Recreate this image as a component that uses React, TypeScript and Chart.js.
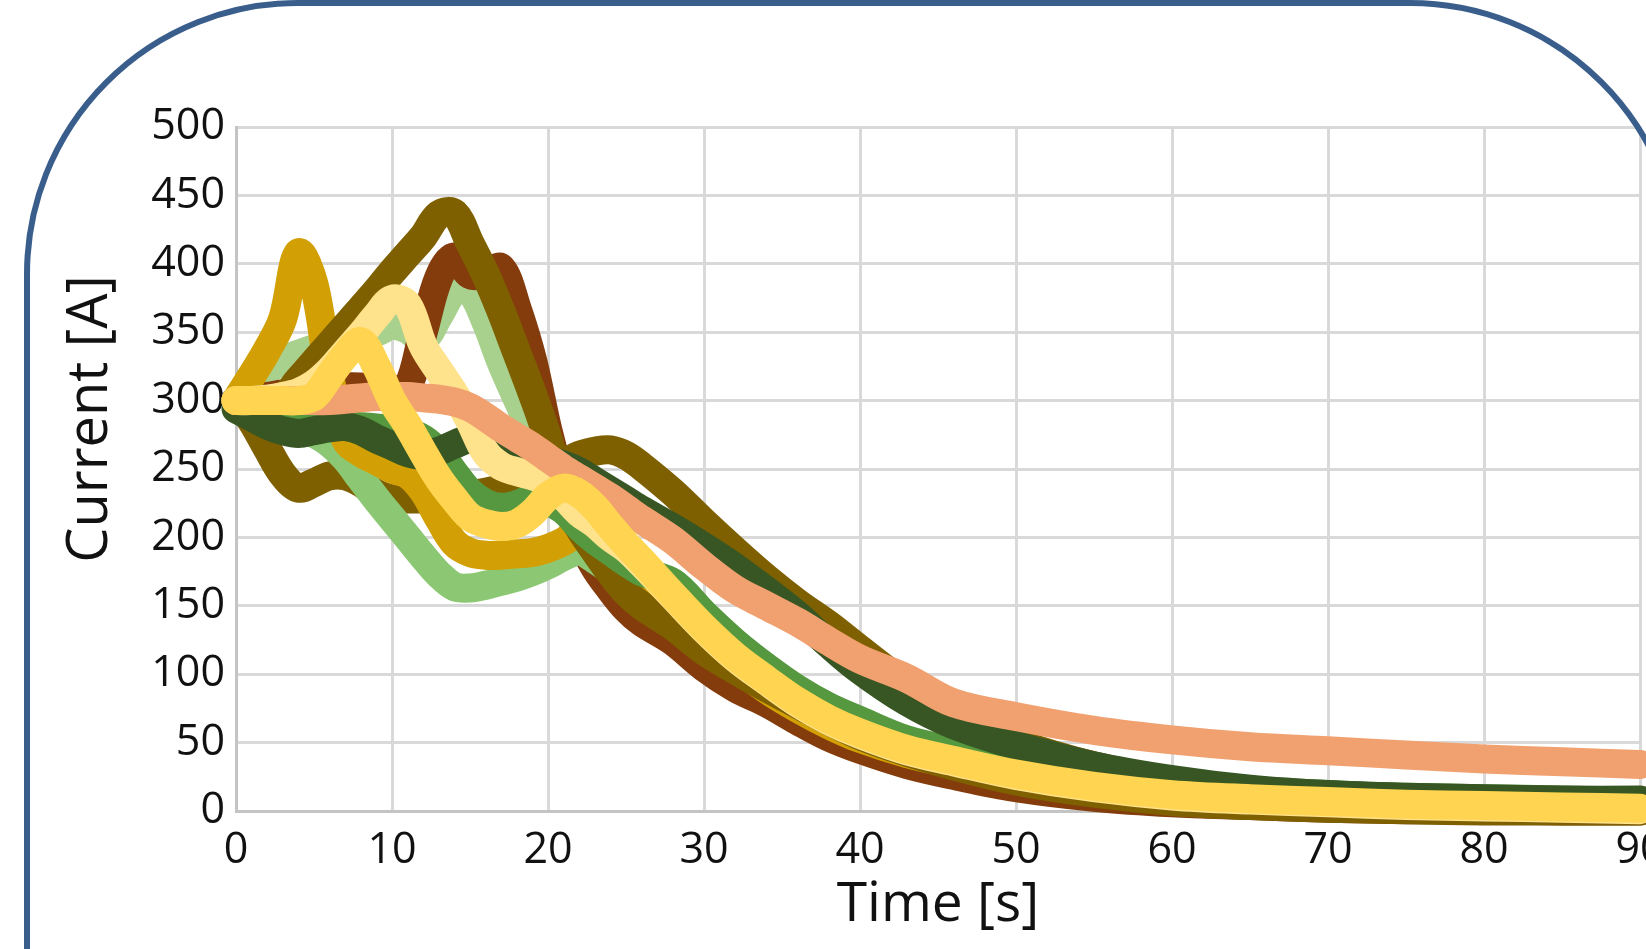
import React, { useEffect, useRef } from "react";
import { Chart, registerables } from "chart.js";

Chart.register(...registerables);

// ---- data (time in s, current in A) ----
const TIME = [0, 1, 2, 3, 4, 5, 6, 7, 8, 9, 10, 11, 12, 13, 14, 15, 16, 17, 18, 19, 20, 21, 22, 23, 24, 25, 26, 28, 30, 32, 34, 36, 38, 40, 43, 46, 50, 55, 60, 65, 70, 75, 80, 85, 90];

const YELLOW = [300, 300, 300, 300, 300, 303, 318, 333, 343, 325, 300, 282, 262, 243, 228, 215, 210, 208, 210, 218, 230, 236, 232, 222, 208, 195, 183, 158, 134, 113, 96, 80, 67, 57, 45, 37, 27, 18, 12, 9, 7, 5, 4, 3, 2];
const SALMON = [300, 300, 300, 300, 300, 300, 300, 301, 302, 303, 303, 303, 302, 301, 299, 295, 288, 280, 273, 266, 258, 250, 243, 236, 229, 221, 213, 198, 179, 162, 150, 138, 124, 111, 97, 79, 69, 59, 52, 47, 44, 41, 38, 36, 34];
const PALE_YELLOW = [300, 300, 301, 303, 306, 312, 322, 335, 348, 362, 374, 370, 340, 322, 305, 285, 262, 252, 248, 245, 240, 230, 218, 210, 200, 192, 181, 157, 133, 112, 95, 79, 66, 56, 44, 36, 26, 17, 11, 8, 6, 4, 3, 2, 1];
const DARK_GREEN = [294, 288, 282, 278, 276, 278, 280, 281, 278, 272, 267, 262, 260, 263, 268, 272, 270, 266, 262, 258, 256, 253, 248, 241, 234, 227, 220, 207, 193, 178, 161, 143, 122, 103, 80, 63, 48, 33, 23, 16, 12, 10, 9, 8, 8];
const MID_GREEN = [300, 297, 294, 291, 288, 286, 284, 282, 281, 280, 279, 277, 272, 262, 247, 233, 225, 222, 224, 228, 226, 220, 208, 198, 190, 182, 175, 167, 144, 123, 105, 89, 76, 66, 52, 44, 34, 25, 19, 15, 12, 10, 9, 8, 7];
const OLIVE_PEAK = [300, 300, 300, 302, 315, 328, 341, 354, 367, 380, 394, 407, 420, 436, 437, 415, 392, 365, 335, 305, 272, 230, 207, 190, 174, 160, 150, 135, 117, 103, 90, 78, 66, 55, 43, 33, 22, 13, 7, 4, 2, 1, 0, 0, 0];
const GOLD = [300, 318, 337, 360, 408, 385, 318, 272, 262, 256, 250, 246, 234, 214, 196, 189, 187, 187, 188, 189, 192, 197, 204, 200, 188, 178, 168, 148, 126, 106, 89, 75, 63, 53, 42, 34, 24, 16, 10, 7, 5, 4, 3, 2, 1];
const LIGHT_GREEN = [300, 296, 291, 286, 281, 276, 269, 258, 243, 228, 214, 200, 186, 173, 164, 163, 165, 168, 171, 175, 180, 186, 190, 184, 176, 166, 158, 141, 124, 108, 92, 78, 65, 55, 44, 35, 25, 17, 11, 8, 6, 4, 3, 2, 1];
const OLIVE_HUMP = [300, 285, 265, 246, 236, 240, 245, 245, 240, 232, 228, 228, 228, 228, 229, 231, 233, 236, 241, 245, 249, 254, 260, 263, 264, 260, 252, 233, 211, 190, 170, 152, 136, 118, 92, 70, 50, 33, 22, 15, 10, 7, 5, 4, 3];
const RUST = [300, 302, 303, 305, 306, 307, 308, 310, 310, 309, 308, 310, 350, 390, 405, 392, 393, 397, 368, 330, 278, 235, 200, 178, 162, 148, 138, 124, 105, 90, 79, 66, 54, 45, 34, 26, 17, 10, 6, 4, 2, 1, 1, 0, 0];
const PALE_GREEN = [300, 312, 322, 330, 334, 338, 342, 346, 348, 350, 355, 352, 345, 362, 380, 380, 358, 328, 302, 277, 256, 236, 216, 200, 186, 174, 164, 146, 128, 110, 94, 80, 68, 58, 46, 37, 27, 18, 12, 9, 7, 5, 4, 3, 2];

// first listed = drawn on top
const SERIES_NAMES = ["S1", "S2", "S3", "S4", "S5", "S6", "S7", "S8", "S9", "S10", "S11"];
const SERIES_VALUES = [YELLOW, SALMON, PALE_YELLOW, DARK_GREEN, MID_GREEN, OLIVE_PEAK, GOLD, LIGHT_GREEN, OLIVE_HUMP, RUST, PALE_GREEN];
const SERIES_COLORS = ["#FFD450", "#F0A16F", "#FFE28C", "#375623", "#56983F", "#7F6000", "#D2A005", "#8CC873", "#7F6000", "#843C0C", "#A9D18E"];

const X_TITLE = "Time [s]";
const Y_TITLE = "Current [A]";

const yTitlePlugin = {
  id: "yTitleText",
  afterDraw(chart: any) {
    const ctx = chart.ctx;
    ctx.save();
    ctx.translate(107, 419);
    ctx.rotate(-Math.PI / 2);
    ctx.font = '56px "Open Sans"';
    ctx.fillStyle = "#111";
    ctx.textAlign = "center";
    ctx.textBaseline = "alphabetic";
    ctx.fillText(Y_TITLE, 0, 0);
    ctx.restore();
  },
};

export default function App() {
  const ref = useRef<HTMLCanvasElement | null>(null);

  useEffect(() => {
    if (!ref.current) return;
    const datasets = SERIES_VALUES.map((vals, i) => ({
      label: SERIES_NAMES[i],
      data: vals.map((v, j) => ({ x: TIME[j], y: v })),
      borderColor: SERIES_COLORS[i],
      backgroundColor: SERIES_COLORS[i],
      borderWidth: 29,
      borderCapStyle: "round" as const,
      borderJoinStyle: "round" as const,
      pointRadius: 0,
      tension: 0.35,
      fill: false,
      clip: false as any,
    }));

    const chart = new Chart(ref.current, {
      type: "line",
      data: { datasets },
      plugins: [yTitlePlugin],
      options: {
        animation: false,
        responsive: false,
        devicePixelRatio: 1,
        layout: { padding: { top: 127, left: 0, right: 60, bottom: 0 } },
        plugins: { legend: { display: false }, tooltip: { enabled: false } },
        scales: {
          x: {
            type: "linear",
            min: 0,
            max: 90,
            ticks: {
              stepSize: 10,
              padding: 14,
              color: "#111",
              font: { family: '"Open Sans"', size: 43 },
              maxRotation: 0,
            },
            grid: { color: "#D9D9D9", lineWidth: 3, drawTicks: false },
            border: { color: "#C4C4C4", width: 3 },
            title: {
              display: true,
              text: X_TITLE,
              color: "#111",
              font: { family: '"Open Sans"', size: 55 },
              padding: { top: 0, bottom: 11 },
            },
            afterFit: (s: any) => {
              s.height = 138;
            },
          },
          y: {
            type: "linear",
            min: 0,
            max: 500,
            ticks: {
              stepSize: 50,
              padding: 11,
              color: "#111",
              font: { family: '"Open Sans"', size: 43 },
            },
            grid: { color: "#D9D9D9", lineWidth: 3, drawTicks: false },
            border: { color: "#C4C4C4", width: 3 },
            afterFit: (s: any) => {
              s.width = 236;
            },
          },
        },
      },
    });
    return () => chart.destroy();
  }, []);

  return (
    <div
      style={{
        position: "fixed",
        left: 0,
        top: 0,
        width: 1646,
        height: 949,
        overflow: "hidden",
        background: "#ffffff",
      }}
    >
      <canvas
        ref={ref}
        width={1700}
        height={949}
        style={{ position: "absolute", left: 0, top: 0, width: 1700, height: 949 }}
      />
      <div
        style={{
          position: "absolute",
          left: 24,
          top: 0,
          width: 1660,
          height: 1400,
          border: "6px solid #3A5E8C",
          borderRadius: 274,
          boxSizing: "border-box",
          pointerEvents: "none",
        }}
      />
    </div>
  );
}
